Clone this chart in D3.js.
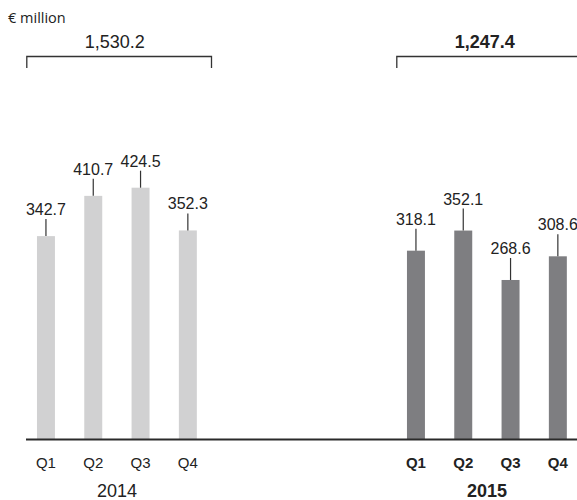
<!DOCTYPE html>
<html>
<head>
<meta charset="utf-8">
<script src="https://cdn.jsdelivr.net/npm/d3@7"></script>
<style>
  html, body { margin: 0; padding: 0; background: #fff; }
  svg { display: block; }
  text { font-family: "Liberation Sans", Arial, Helvetica, sans-serif; fill: #222; }
</style>
</head>
<body>
<svg id="chart" width="577" height="500"></svg>
<script>
// Quarterly figures, € million
const quarters = ["Q1", "Q2", "Q3", "Q4"];
const years = ["2014", "2015"];
const values2014 = [342.7, 410.7, 424.5, 352.3];
const values2015 = [318.1, 352.1, 268.6, 308.6];
const totals = ["1,530.2", "1,247.4"];
const unitLabel = "€ million";

const W = 577, H = 500;
const baseY = 439;
const svg = d3.select("#chart");

const y = d3.scaleLinear().domain([0, 500]).range([baseY, baseY - 0.592 * 500]);

const groups = [
  { year: years[0], values: values2014, total: totals[0], range: [22.3, 211.5],
    fill: "#d1d1d2", bold: false, lift: 21 },
  { year: years[1], values: values2015, total: totals[1], range: [392.3, 581.5],
    fill: "#7e7e81", bold: true, lift: 26 }
];

// unit caption
svg.append("text")
  .attr("x", 8).attr("y", 23)
  .style("font-family", "'Open Sans', sans-serif")
  .style("font-size", "14.5px")
  .text(unitLabel);

groups.forEach(g => {
  const x = d3.scaleBand().domain(quarters).range(g.range)
    .paddingInner(0.62).paddingOuter(0.31);
  const data = quarters.map((q, i) => ({ q, v: g.values[i] }));
  const weight = g.bold ? "bold" : "normal";

  // bars
  svg.append("g").selectAll("rect").data(data).join("rect")
    .attr("x", d => x(d.q))
    .attr("width", x.bandwidth())
    .attr("y", d => y(d.v))
    .attr("height", d => y(0) - y(d.v))
    .attr("fill", g.fill);

  // leader lines and value labels
  const cx = d => x(d.q) + x.bandwidth() / 2;
  svg.append("g").selectAll("line").data(data).join("line")
    .attr("x1", cx).attr("x2", cx)
    .attr("y1", d => y(d.v)).attr("y2", d => y(d.v) - g.lift + 4)
    .attr("stroke", "#333").attr("stroke-width", 1.2);
  svg.append("g").selectAll("text").data(data).join("text")
    .attr("x", cx)
    .attr("y", d => y(d.v) - g.lift)
    .attr("text-anchor", "middle")
    .style("font-size", "16px")
    .text(d => d3.format(".1f")(d.v));

  // quarter axis labels
  const axis = d3.axisBottom(x).tickSize(0).tickPadding(0);
  const ax = svg.append("g").attr("transform", `translate(0,${baseY})`).call(axis);
  ax.select(".domain").remove();
  ax.attr("font-size", null).attr("font-family", null);
  ax.selectAll("text")
    .attr("y", 29).attr("dy", null)
    .style("font-size", "15px")
    .style("font-weight", weight)
    .attr("fill", "#222");

  const mid = (x(quarters[0]) + x(quarters[3]) + x.bandwidth()) / 2;
  svg.append("text")
    .attr("x", mid).attr("y", 497)
    .attr("text-anchor", "middle")
    .style("font-size", "18px")
    .style("font-weight", weight)
    .text(g.year);

  // bracket with annual total
  const bl = g.range[0] + 4.5, br = g.range[1];
  svg.append("path")
    .attr("d", `M${bl},68V56.5H${br}V68`)
    .attr("fill", "none").attr("stroke", "#333").attr("stroke-width", 1.3);
  svg.append("text")
    .attr("x", bl + 88).attr("y", 48)
    .attr("text-anchor", "middle")
    .style("font-size", "18px")
    .style("font-weight", weight)
    .text(g.total);
});

// baseline
svg.append("line")
  .attr("x1", 26).attr("x2", W)
  .attr("y1", baseY + 0.5).attr("y2", baseY + 0.5)
  .attr("stroke", "#2a2a2a").attr("stroke-width", 2);
</script>
</body>
</html>
